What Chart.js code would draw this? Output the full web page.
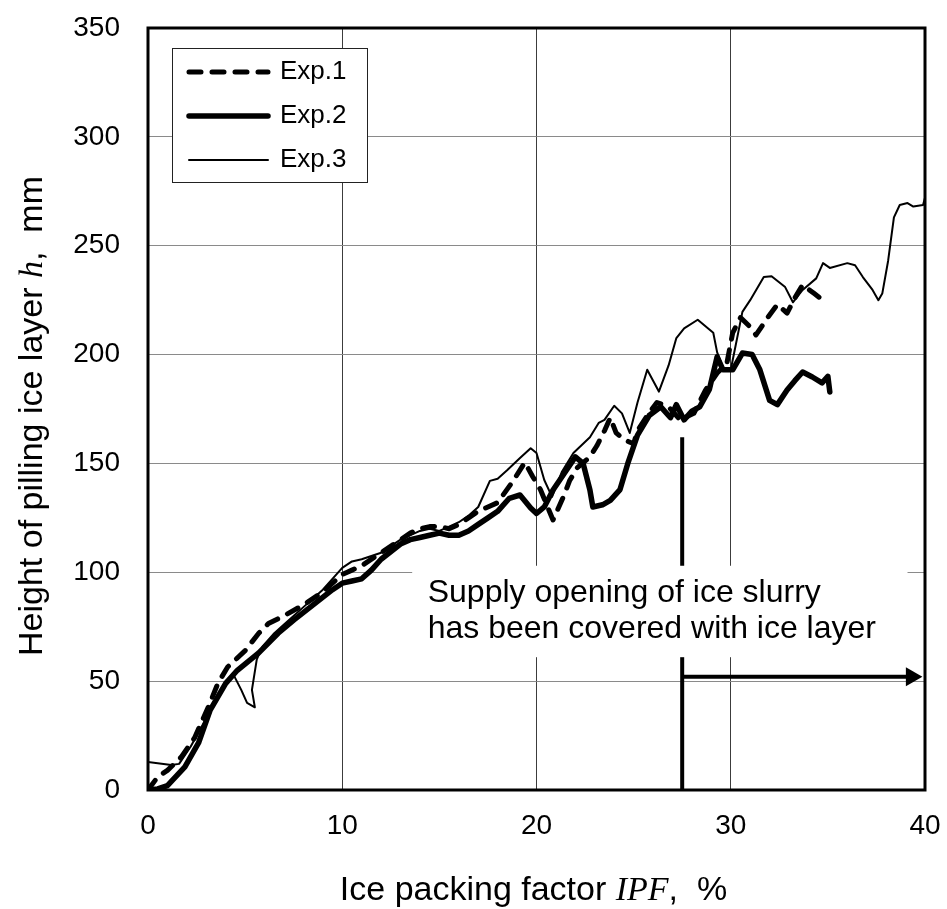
<!DOCTYPE html>
<html>
<head>
<meta charset="utf-8">
<script src="https://cdn.jsdelivr.net/npm/chart.js@4"></script>
<style>
  body { margin: 0; background: #fff; }
  canvas { display: block; }
</style>
</head>
<body>
<canvas id="c" width="947" height="909"></canvas>
<script>
// IPF (%) vs height of piled ice layer (mm)
const exp1X = [0, 0.5, 1.0, 1.7, 2.4, 3.1, 3.6, 4.1, 5.0, 5.7, 6.2, 7, 8, 9, 10, 10.5, 11, 12, 13, 13.5, 14, 14.5, 15, 15.5, 16, 16.5, 17, 17.5, 18, 18.8, 19.4, 19.8, 20.2, 20.85, 21.05, 21.4, 21.7, 22.1, 22.75, 23.1, 23.5, 23.8, 24.1, 24.5, 25.0, 25.2, 25.7, 26.2, 26.8, 27.4, 28.1, 28.7, 29.3, 29.8, 30.1, 30.5, 31.0, 31.3, 31.9, 32.4, 32.9, 33.3, 33.7, 34.3, 34.6];
const exp1Y = [0, 6, 9, 15, 24, 38, 49, 56.5, 64, 72, 76.5, 80, 85, 91, 99, 101, 103, 109, 115, 118, 120, 121, 121, 120, 122, 125, 128, 130, 132, 142, 150.5, 144, 138, 124, 128, 135, 142, 148, 153, 158, 165, 171, 164, 161, 159, 165, 172, 178, 176, 170, 173, 183.7, 191.5, 196, 210, 217, 212.7, 209, 217, 223, 219, 226, 232, 228, 226];

const exp2X = [0, 0.5, 1.0, 1.9, 2.6, 3.2, 4.0, 4.6, 5.7, 6.7, 7.5, 8.5, 9.5, 10, 10.5, 11, 11.5, 12, 13, 13.5, 14, 14.5, 15, 15.5, 16, 16.5, 17, 17.5, 18, 18.6, 19.15, 19.7, 20.0, 20.4, 20.85, 21.4, 22.0, 22.4, 22.75, 22.9, 23.4, 23.8, 24.3, 24.7, 25.2, 25.8, 26.4, 26.9, 27.2, 27.6, 28.0, 28.4, 28.9, 29.3, 29.6, 30.1, 30.6, 31.1, 31.5, 32.0, 32.4, 32.9, 33.3, 33.7, 34.2, 34.7, 35.0, 35.1];
const exp2Y = [0, 0.5, 2, 10.6, 21.6, 36.7, 49, 55, 63, 72, 78, 85, 92, 95, 96, 97, 101, 106, 113, 115, 116, 117, 118, 117, 117, 119, 122, 125, 128, 134, 135.5, 129.5, 127, 130, 137.8, 145, 153, 150, 137.8, 130, 131, 133, 138, 150, 163, 172, 176, 171, 177, 170, 174, 176, 184, 199, 193, 193, 200.7, 200, 193, 179, 177, 183.7, 188, 192, 189.7, 187, 190, 182.8];

const exp3X = [0, 1.2, 1.6, 2.2, 3.0, 3.6, 4.0, 4.4, 4.8, 5.1, 5.5, 5.35, 5.6, 5.9, 6.5, 7, 8, 9, 10, 10.5, 11, 12, 13, 14, 14.5, 15, 15.5, 16, 16.5, 17, 17.6, 18.0, 18.5, 19.15, 19.7, 20.0, 20.4, 20.8, 21.3, 21.9, 22.75, 23.2, 23.5, 24.0, 24.4, 24.8, 25.2, 25.7, 26.3, 26.8, 27.2, 27.6, 28.3, 29.1, 29.3, 29.6, 30.0, 30.6, 31.0, 31.7, 32.1, 32.8, 33.2, 33.7, 34.4, 34.75, 35.1, 36.0, 36.4, 36.8, 37.3, 37.6, 37.8, 38.1, 38.4, 38.7, 39.1, 39.4, 39.9, 40];
const exp3Y = [12.9, 11.5, 12, 20, 33, 44, 50, 53, 46, 40, 38, 46, 60, 66, 72, 76, 84, 92, 102, 105, 106, 109, 115, 119, 120, 119, 121, 123, 126, 130, 142, 143, 147, 152.5, 157, 154.8, 142.4, 134.6, 146, 154.8, 162, 168.6, 170, 176.5, 173, 164, 178, 193, 183, 195, 207.6, 212, 216, 210, 201, 194, 193, 219.6, 225, 235.6, 236, 231, 224, 229.7, 235, 242, 239.8, 242, 241, 235.6, 229.7, 225, 228, 243, 263, 268.7, 269.6, 268, 268.7, 272];

const seriesNames = ["Exp.1", "Exp.2", "Exp.3"];

// marker: supply opening covered at IPF = 27.5 %
const coverX = [27.5, 27.5];
const coverY = [0, 162];
const arrowX = [27.5, 39.3];
const arrowY = [52, 52];
const noteLines = ["Supply opening of ice slurry", "has been covered with ice layer"];

const xTicks = [0, 10, 20, 30, 40];
const yTicks = [0, 50, 100, 150, 200, 250, 300, 350];

const sans = 'Arial, "Liberation Sans", sans-serif';
const serif = '"Times New Roman", "Liberation Serif", serif';

const pts = (xs, ys) => xs.map((v, i) => ({ x: v, y: ys[i] }));

const styles = [
  { borderWidth: 5, borderDash: [12, 11], borderCapStyle: 'round' },
  { borderWidth: 5.5, borderDash: [], borderCapStyle: 'round' },
  { borderWidth: 2, borderDash: [], borderCapStyle: 'round' }
];

const datasets = [exp1X, exp2X, exp3X].map((xs, i) => ({
  label: seriesNames[i],
  data: pts(xs, [exp1Y, exp2Y, exp3Y][i]),
  borderColor: '#000',
  borderJoinStyle: 'round',
  pointRadius: 0,
  ...styles[i]
}));

datasets.push({
  label: 'cover',
  data: pts(coverX, coverY),
  borderColor: '#000',
  borderWidth: 4,
  pointRadius: 0
});
datasets.push({
  label: 'arrow',
  data: pts(arrowX, arrowY),
  borderColor: '#000',
  backgroundColor: '#000',
  borderWidth: 4,
  pointStyle: 'triangle',
  pointRotation: 90,
  pointRadius: [0, 11],
  pointBorderWidth: 0
});

// legend, note box, frame, axis titles
const overlay = {
  id: 'overlay',
  afterDatasetsDraw(chart) {
    const { ctx, chartArea: a, scales: { x, y } } = chart;
    ctx.save();

    // white box behind the note
    const bx = x.getPixelForValue(13.6), by = y.getPixelForValue(103);
    ctx.fillStyle = '#fff';
    ctx.fillRect(bx, by, x.getPixelForValue(39.1) - bx, y.getPixelForValue(61) - by);
    ctx.fillStyle = '#000';
    ctx.font = '32px ' + sans;
    ctx.textBaseline = 'alphabetic';
    ctx.textAlign = 'left';
    ctx.fillText(noteLines[0], x.getPixelForValue(14.4), y.getPixelForValue(86.4));
    ctx.fillText(noteLines[1], x.getPixelForValue(14.4), y.getPixelForValue(70));

    // legend
    const lx = a.left + 24, ly = a.top + 20, lw = 195, lh = 134;
    ctx.fillStyle = '#fff';
    ctx.fillRect(lx, ly, lw, lh);
    ctx.strokeStyle = '#222';
    ctx.lineWidth = 1;
    ctx.strokeRect(lx + 0.5, ly + 0.5, lw, lh);
    ctx.font = '26px ' + sans;
    ctx.textBaseline = 'middle';
    ctx.fillStyle = '#000';
    seriesNames.forEach((name, i) => {
      const cy = ly + 24 + i * 44;
      const s = styles[i];
      ctx.beginPath();
      ctx.lineWidth = s.borderWidth;
      ctx.lineCap = s.borderCapStyle;
      ctx.setLineDash(s.borderDash);
      ctx.moveTo(lx + 17, cy);
      ctx.lineTo(lx + 96, cy);
      ctx.strokeStyle = '#000';
      ctx.stroke();
      ctx.setLineDash([]);
      ctx.fillText(name, lx + 108, cy);
    });

    // frame
    ctx.lineWidth = 3;
    ctx.strokeStyle = '#000';
    ctx.strokeRect(a.left, a.top, a.width, a.height);
    ctx.restore();
  },
  afterDraw(chart) {
    const { ctx, chartArea: a } = chart;
    const parts = (segs) => segs.map(([t, f]) => {
      ctx.font = f;
      return { t, f, w: ctx.measureText(t).width };
    });
    const drawRow = (segs, cx, cy) => {
      const p = parts(segs);
      let total = p.reduce((s, q) => s + q.w, 0);
      let px = cx - total / 2;
      p.forEach(q => {
        ctx.font = q.f;
        ctx.fillText(q.t, px, cy);
        px += q.w;
      });
    };
    ctx.save();
    ctx.fillStyle = '#000';
    ctx.textAlign = 'left';
    ctx.textBaseline = 'alphabetic';
    drawRow([
      ['Ice packing factor ', '34px ' + sans],
      ['IPF', 'italic 34px ' + serif],
      [',  %', '34px ' + sans]
    ], (a.left + a.right) / 2 - 3, 900);

    ctx.translate(42, (a.top + a.bottom) / 2 + 7);
    ctx.rotate(-Math.PI / 2);
    drawRow([
      ['Height of pilling ice layer ', '34px ' + sans],
      ['h', 'italic 34px ' + serif],
      [',  mm', '34px ' + sans]
    ], 0, 0);
    ctx.restore();
  }
};

new Chart(document.getElementById('c').getContext('2d'), {
  type: 'line',
  data: { datasets },
  options: {
    responsive: false,
    animation: false,
    layout: { padding: { top: 28, right: 22, left: 0, bottom: 0 } },
    elements: { line: { tension: 0 } },
    scales: {
      x: {
        type: 'linear',
        min: 0,
        max: 40,
        afterBuildTicks: (s) => { s.ticks = xTicks.map(v => ({ value: v })); },
        afterFit: (s) => { s.height = 119; s.paddingLeft = 0; s.paddingRight = 0; },
        ticks: { color: '#000', padding: 19, font: { family: sans, size: 28 } },
        grid: {
          drawTicks: false,
          lineWidth: 1,
          color: (c) => (c.tick && (c.tick.value === 0 || c.tick.value === 40)) ? 'rgba(0,0,0,0)' : '#3c3c3c'
        },
        border: { display: false }
      },
      y: {
        type: 'linear',
        min: 0,
        max: 350,
        afterBuildTicks: (s) => { s.ticks = yTicks.map(v => ({ value: v })); },
        afterFit: (s) => { s.width = 148; s.paddingTop = 0; s.paddingBottom = 0; },
        ticks: { color: '#000', padding: 28, font: { family: sans, size: 28 } },
        grid: {
          drawTicks: false,
          lineWidth: 1,
          color: (c) => (c.tick && (c.tick.value === 0 || c.tick.value === 350)) ? 'rgba(0,0,0,0)' : '#8a8a8a'
        },
        border: { display: false }
      }
    },
    plugins: {
      legend: { display: false },
      tooltip: { enabled: false }
    }
  },
  plugins: [overlay]
});
</script>
</body>
</html>
